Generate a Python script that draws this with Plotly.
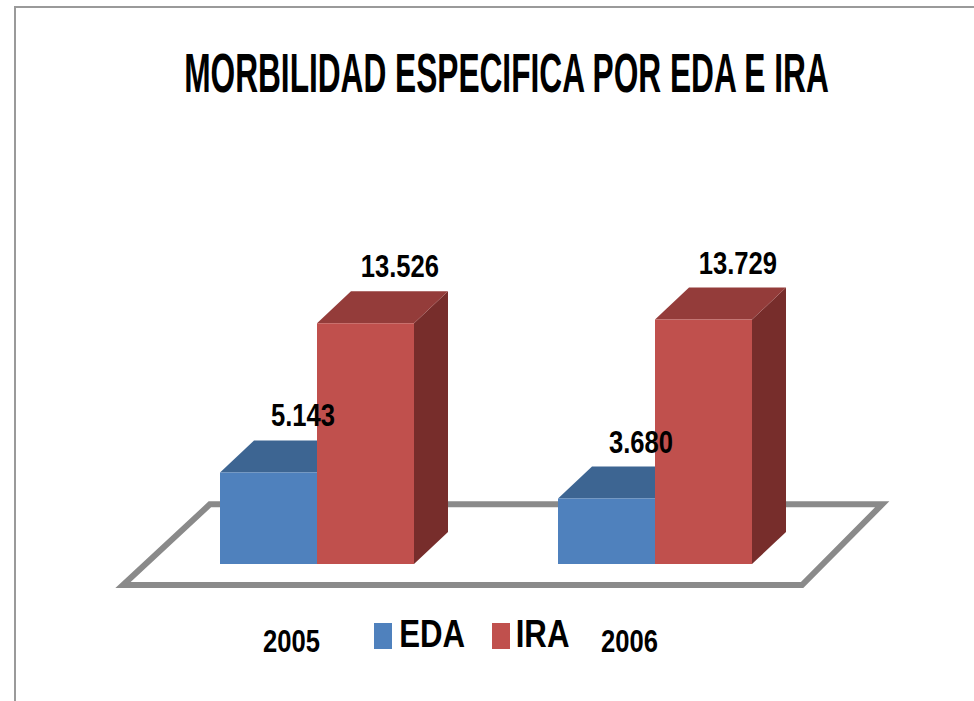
import plotly.graph_objects as go

# data
years = ["2005", "2006"]
series = ["EDA", "IRA"]
eda = [5.143, 3.680]
ira = [13.526, 13.729]
labels_eda = ["5.143", "3.680"]
labels_ira = ["13.526", "13.729"]

front = {"EDA": "#4f81bd", "IRA": "#c0504d"}
top = {"EDA": "#3d6592", "IRA": "#943c3a"}
side = {"EDA": "#2f4f75", "IRA": "#772d2b"}

W, H = 974, 701
px_x = 338.0      # pixels per category step
px_y = 17.8       # pixels per unit value
base_px = 564     # pixel row of value 0
cat0_px = 317     # pixel column of first category centre

x_range = [-cat0_px / px_x, (W - cat0_px) / px_x]
y_range = [(base_px - H) / px_y, base_px / px_y]

w = 97 / px_x           # bar width
dx = 34 / px_x          # depth offset
dy = 32 / px_y

cats = list(range(len(years)))
fig = go.Figure()
shapes = []

# floor
fl = [(-0.574, -1.18), (1.435, -1.18), (1.672, 3.35), (-0.317, 3.35)]
path = "M " + " L ".join(f"{a},{b}" for a, b in fl) + " Z"
shapes.append(dict(type="path", path=path, xref="x", yref="y", layer="below",
                   fillcolor="white", line=dict(color="#8a8a8a", width=6)))

fonts = "Liberation Sans Narrow, Arial Narrow, Liberation Sans, Arial"
annotations = []

for name, vals, labs, off in [("EDA", eda, labels_eda, -0.5), ("IRA", ira, labels_ira, 0.5)]:
    xs = [c + off * w for c in cats]
    fig.add_trace(go.Bar(x=xs, y=vals, width=w, name=name,
                         marker=dict(color=front[name], line=dict(width=0)),
                         showlegend=False, hoverinfo="skip"))
    for x, v, t in zip(xs, vals, labs):
        l, r = x - w / 2, x + w / 2
        tp = f"M {l},{v} L {r},{v} L {r+dx},{v+dy} L {l+dx},{v+dy} Z"
        sp = f"M {r},0 L {r},{v} L {r+dx},{v+dy} L {r+dx},{dy} Z"
        shapes.append(dict(type="path", path=sp, xref="x", yref="y", layer="below",
                           fillcolor=side[name], line=dict(width=0)))
        shapes.append(dict(type="path", path=tp, xref="x", yref="y", layer="below",
                           fillcolor=top[name], line=dict(width=0)))
        annotations.append(dict(x=x + dx, y=v + dy, xref="x", yref="y", text=t,
                                showarrow=False, yanchor="middle", yshift=25,
                                font=dict(family=fonts, size=32, color="black", weight="bold")))

# category labels
for c, yr in zip(cats, years):
    annotations.append(dict(x=c - 0.075, y=(base_px - 641) / px_y, xref="x", yref="y",
                            text=yr, showarrow=False, yanchor="middle",
                            font=dict(family=fonts, size=32, color="black", weight="bold")))

# legend (manual, to match the big swatches)
leg = [("EDA", 374 / W, 432 / W), ("IRA", 492 / W, 542 / W)]
for name, sx, tx in leg:
    shapes.append(dict(type="rect", xref="paper", yref="paper",
                       x0=sx, x1=sx + 18 / W, y0=1 - 649 / H, y1=1 - 623 / H,
                       fillcolor=front[name], line=dict(width=0)))
    annotations.append(dict(x=tx, y=1 - 633 / H, xref="paper", yref="paper",
                            text=name, showarrow=False, xanchor="center", yanchor="middle",
                            font=dict(family=fonts, size=39, color="black", weight="bold")))

# outer frame
shapes.append(dict(type="rect", xref="paper", yref="paper",
                   x0=15 / W, x1=1.05, y0=-0.05, y1=1 - 7 / H,
                   line=dict(color="#9a9a9a", width=2), fillcolor="rgba(0,0,0,0)"))

fig.update_layout(
    width=W, height=H,
    margin=dict(l=0, r=0, t=0, b=0),
    paper_bgcolor="white", plot_bgcolor="white",
    barmode="overlay",
    title=dict(text="MORBILIDAD ESPECIFICA POR EDA E IRA", x=0.52, xanchor="center",
               y=1 - 72 / H, yanchor="middle",
               font=dict(family=fonts, size=56, color="black", weight="bold")),
    xaxis=dict(range=x_range, visible=False, fixedrange=True),
    yaxis=dict(range=y_range, visible=False, fixedrange=True),
    shapes=shapes, annotations=annotations,
)

# condensed lettering like the original (no narrow font installed)
post = """
document.body.style.margin = '0';
function squeeze(sel, k) {
  document.querySelectorAll(sel).forEach(function (t) {
    var n = t.getComputedTextLength();
    t.setAttribute('lengthAdjust', 'spacingAndGlyphs');
    t.setAttribute('textLength', n * k);
  });
}
squeeze('.gtitle', 0.565);
squeeze('.annotation-text', 0.80);
"""

fig.write_html("out.html", post_script=post, config={"displayModeBar": False})
